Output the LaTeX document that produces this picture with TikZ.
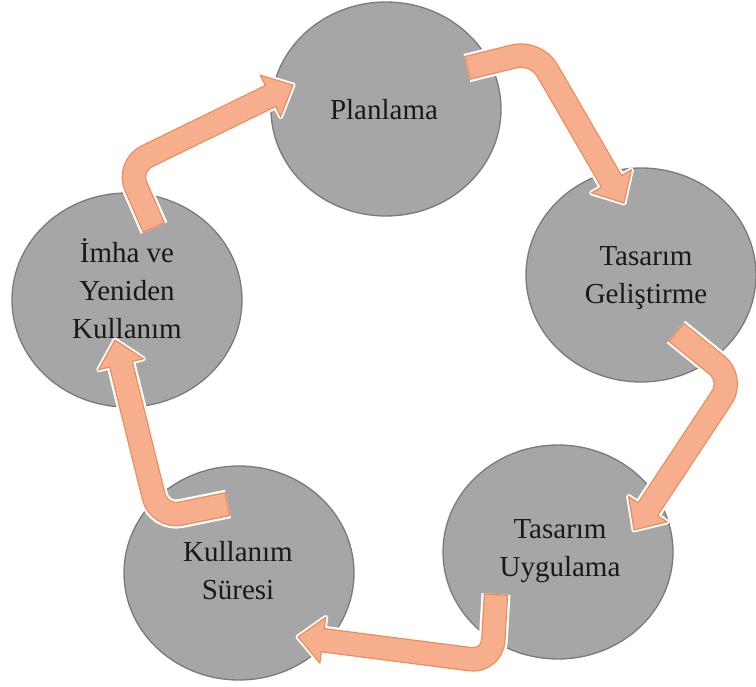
\documentclass[tikz,border=0pt]{standalone}
\usepackage{fontspec}
\setmainfont{Liberation Serif}
\usetikzlibrary{calc,shapes.geometric}
\definecolor{circfill}{HTML}{A6A6A6}
\definecolor{circline}{HTML}{7A7A7A}
\definecolor{arrfill}{HTML}{F6AE8C}
\definecolor{arrline}{HTML}{EB8C5C}
\newcommand\myBentArrow[3]{%
  \coordinate (hb) at ($(#3)!25pt!(#2)$);
  \coordinate (hbin) at ($(#3)!21pt!(#2)$);
  \coordinate (tin) at ($(#1)!1.3pt!(#2)$);
  \coordinate (bl) at ($(hb)!23pt!90:(#3)$);
  \coordinate (br) at ($(hb)!23pt!-90:(#3)$);
  \draw[white, line width=29pt, rounded corners=22pt] (#1) -- (#2) -- (hb);
  \filldraw[white, line width=5pt, line join=round] (bl) -- (#3) -- (br) -- cycle;
  \draw[arrline, line width=24.5pt, rounded corners=22pt] (#1) -- (#2) -- (hb);
  \filldraw[fill=arrfill, draw=arrline, line width=1.2pt, line join=miter] (bl) -- (#3) -- (br) -- cycle;
  \draw[arrfill, line width=22pt, rounded corners=22pt] (tin) -- (#2) -- (hbin);
}
\begin{document}
\begin{tikzpicture}[x=1pt,y=-1pt,
  stage/.style={ellipse, draw=circline, fill=circfill, line width=1.3pt,
    minimum width=230pt, minimum height=214pt, inner sep=0pt},
  stagetext/.style={align=center, font=\fontsize{29}{38}\selectfont, text=black!90, inner sep=0pt}]
\useasboundingbox (0,0) rectangle (756,687);
% stages
\node[stage] (plan) at (386,109) {};
\node[stage] (tg) at (641,275) {};
\node[stage] (tu) at (558,552) {};
\node[stage] (ks) at (239,573) {};
\node[stage] (imha) at (127,300) {};
% texts
\node[stagetext] (plan-t) at (384,110) {Planlama};
\node[stagetext] (tg-t) at (646,278) {Tasarım\\Geliştirme};
\node[stagetext] (tu-t) at (560,551) {Tasarım\\Uygulama};
\node[stagetext] (ks-t) at (238,571) {Kullanım\\Süresi};
\node[stagetext] (imha-t) at (127,289) {İmha ve\\Yeniden\\Kullanım};
% arrow points
\coordinate (a1t) at (467,68);  \coordinate (a1m) at (536,51);  \coordinate (a1p) at (624,203);
\coordinate (a2t) at (676,332); \coordinate (a2m) at (734,379); \coordinate (a2p) at (634,530);
\coordinate (a3t) at (496,594); \coordinate (a3m) at (492,662); \coordinate (a3p) at (298,637);
\coordinate (a4t) at (228,504); \coordinate (a4m) at (159,518); \coordinate (a4p) at (115,340);
\coordinate (a5t) at (154,228); \coordinate (a5m) at (127,166); \coordinate (a5p) at (293,85);
\myBentArrow{a1t}{a1m}{a1p}
\myBentArrow{a2t}{a2m}{a2p}
\myBentArrow{a3t}{a3m}{a3p}
\myBentArrow{a4t}{a4m}{a4p}
\myBentArrow{a5t}{a5m}{a5p}
\end{tikzpicture}
\end{document}
